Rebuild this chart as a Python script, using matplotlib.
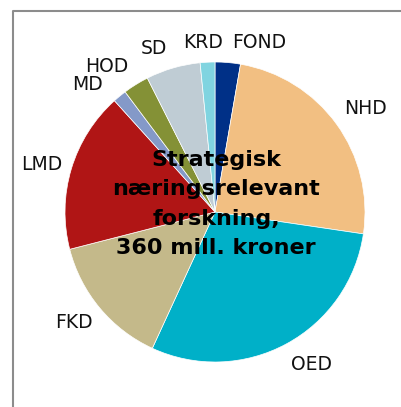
import matplotlib
matplotlib.use("Agg")
import matplotlib.pyplot as plt

categories = ["FOND", "NHD", "OED", "FKD", "LMD", "MD", "HOD", "SD", "KRD"]
values = [9.8, 88.6, 106.3, 50.9, 62.3, 5.3, 10.0, 21.1, 5.7]
colors = ["#003087", "#F2BF82", "#00B0C8", "#C4B98A", "#B01515",
          "#8499C8", "#849136", "#BFCCD4", "#80D4E0"]
label_pos = {"FOND": (259, 43), "NHD": (366, 108), "OED": (312, 364),
             "FKD": (74, 323), "LMD": (42, 165), "MD": (87, 85),
             "HOD": (107, 66), "SD": (154, 48), "KRD": (203, 43)}
title = "Strategisk\nnæringsrelevant\nforskning,\n360 mill. kroner"

W, H = 401, 407
fig = plt.figure(figsize=(W / 100, H / 100), dpi=100)
ax = fig.add_axes([0, 0, 1, 1])

cx, cy, r = 215, H - 212, 150
ax.pie(values, colors=colors, startangle=90, counterclock=False,
       center=(cx, cy), radius=r, frame=True,
       wedgeprops=dict(linewidth=0.5, edgecolor="white"))
ax.set_xlim(0, W)
ax.set_ylim(0, H)
ax.set_aspect("auto")
ax.axis("off")

for cat in categories:
    x, y = label_pos[cat]
    ax.text(x, H - y, cat, ha="center", va="center", fontsize=13.5,
            family="DejaVu Sans", color="#111111")

ax.text(216, H - 204, title, ha="center", va="center", fontsize=16,
        fontweight="bold", family="DejaVu Sans", linespacing=1.58,
        color="black")

# frame
ax.plot([13, 13, W + 5], [-5, H - 11, H - 11], color="#8c8c8c", lw=1.5,
        solid_capstyle="butt", clip_on=False)

fig.savefig("out.png", dpi=100)
